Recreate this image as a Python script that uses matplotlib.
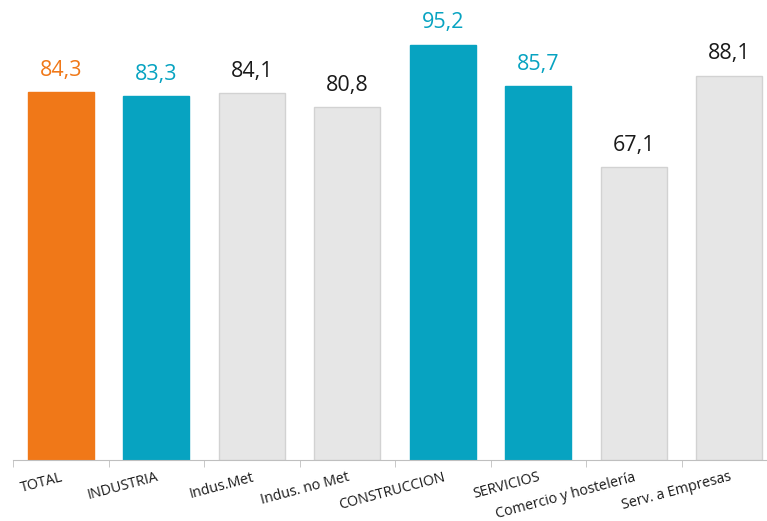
import numpy as np
import matplotlib.pyplot as plt

plt.rcParams['font.family'] = ['Open Sans', 'DejaVu Sans']

categories = ['TOTAL', 'INDUSTRIA', 'Indus.Met', 'Indus. no Met', 'CONSTRUCCION',
              'SERVICIOS', 'Comercio y hostelería', 'Serv. a Empresas']
values = [84.3, 83.3, 84.1, 80.8, 95.2, 85.7, 67.1, 88.1]
kinds = ['total', 'main', 'sub', 'sub', 'main', 'main', 'sub', 'sub']

fill = {'total': '#F07818', 'main': '#07A3C1', 'sub': '#E6E6E6'}
edge = {'total': '#F07818', 'main': '#07A3C1', 'sub': '#D2D2D2'}
text_col = {'total': '#F07818', 'main': '#07A3C1', 'sub': '#1a1a1a'}

fig = plt.figure(figsize=(7.67, 5.21), dpi=100)
ax = fig.add_axes([13 / 767, 1 - 460 / 521, 764 / 767, 460 / 521])

x = np.arange(len(categories))
for i, (v, k) in enumerate(zip(values, kinds)):
    ax.bar(x[i], v, width=0.69, color=fill[k], edgecolor=edge[k], linewidth=1)
    ax.annotate(f'{v:.1f}'.replace('.', ','), (x[i], v), xytext=(0, 8),
                textcoords='offset points', ha='center', va='bottom',
                fontsize=15.5, color=text_col[k])

ax.set_xlim(-0.5, len(categories) - 0.5)
ax.set_ylim(0, 105.4)

for s in ['left', 'right', 'top']:
    ax.spines[s].set_visible(False)
ax.spines['bottom'].set_color('#BFBFBF')
ax.set_yticks([])

ax.set_xticks(x)
ax.set_xticklabels(categories, rotation=15, ha='right', rotation_mode='anchor',
                   fontsize=10.3, color='#1a1a1a')
ax.tick_params(axis='x', which='major', length=0, pad=7)
ax.set_xticks(np.arange(-0.5, len(categories)), minor=True)
ax.tick_params(axis='x', which='minor', length=5, color='#BFBFBF')

fig.savefig('out.png', dpi=100)
